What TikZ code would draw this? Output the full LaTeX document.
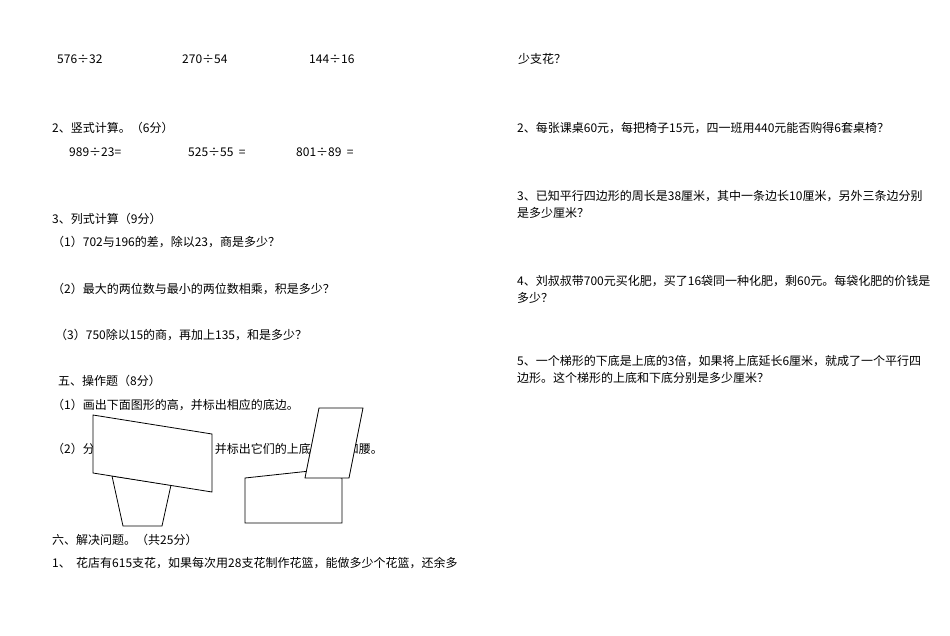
\documentclass[tikz,border=0pt]{standalone}
\usepackage{fontspec}
\setmainfont{Noto Sans CJK SC}
\begin{document}
\begin{tikzpicture}[x=1pt,y=-1pt,
  txt/.style={anchor=west,inner sep=0pt,font=\fontsize{12}{14}\selectfont},
  shp/.style={draw=black,line width=0.8pt,fill=white}]
\useasboundingbox[fill=white] (0,0) rectangle (950,635);
\node[txt] (a1) at (57,59) {576÷32};
\node[txt] (a2) at (182,59) {270÷54};
\node[txt] (a3) at (309,59) {144÷16};
\node[txt] (b0) at (52,128) {2、竖式计算。（6分）};
\node[txt] (b1) at (69,152) {989÷23=};
\node[txt] (b2) at (188,152) {525÷55 \ =};
\node[txt] (b3) at (296,152) {801÷89 \ =};
\node[txt] (c0) at (52,219) {3、列式计算（9分）};
\node[txt] (c1) at (52,242) {（1）702与196的差，除以23，商是多少？};
\node[txt] (c2) at (52,289) {（2）最大的两位数与最小的两位数相乘，积是多少？};
\node[txt] (c3) at (55,335) {（3）750除以15的商，再加上135，和是多少？};
\node[txt] (d0) at (58,381) {五、操作题（8分）};
\node[txt] (d1) at (52,405) {（1）画出下面图形的高，并标出相应的底边。};
\node[txt] (d2) at (52,449) {（2）分别画出下面梯形的高，并标出它们的上底、下底和腰。};
\node[txt] (e0) at (52,540) {六、解决问题。（共25分）};
\node[txt] (e1) at (52,563) {1、\ \ 花店有615支花，如果每次用28支花制作花篮，能做多少个花篮，还余多};
\node[txt] (r0) at (518,59) {少支花？};
\node[txt] (r1) at (517,128) {2、每张课桌60元，每把椅子15元，四一班用440元能否购得6套桌椅？};
\node[txt] (r2) at (517,196) {3、已知平行四边形的周长是38厘米，其中一条边长10厘米，另外三条边分别};
\node[txt] (r2b) at (517,213) {是多少厘米？};
\node[txt] (r3) at (517,281) {4、刘叔叔带700元买化肥，买了16袋同一种化肥，剩60元。每袋化肥的价钱是};
\node[txt] (r3b) at (517,298) {多少？};
\node[txt] (r4) at (517,361) {5、一个梯形的下底是上底的3倍，如果将上底延长6厘米，就成了一个平行四};
\node[txt] (r4b) at (517,378) {边形。这个梯形的上底和下底分别是多少厘米？};
% shapes
\draw[shp] (112,476) -- (171,485) -- (162,526) -- (123,526) -- cycle;
\draw[shp] (93,415) -- (212,434) -- (212,492) -- (93,473) -- cycle;
\draw[shp] (245,478) -- (310,471) -- (342,478) -- (342,523) -- (245,523) -- cycle;
\draw[shp] (319,408) -- (363,408) -- (349,478) -- (305,478) -- cycle;
\end{tikzpicture}
\end{document}
